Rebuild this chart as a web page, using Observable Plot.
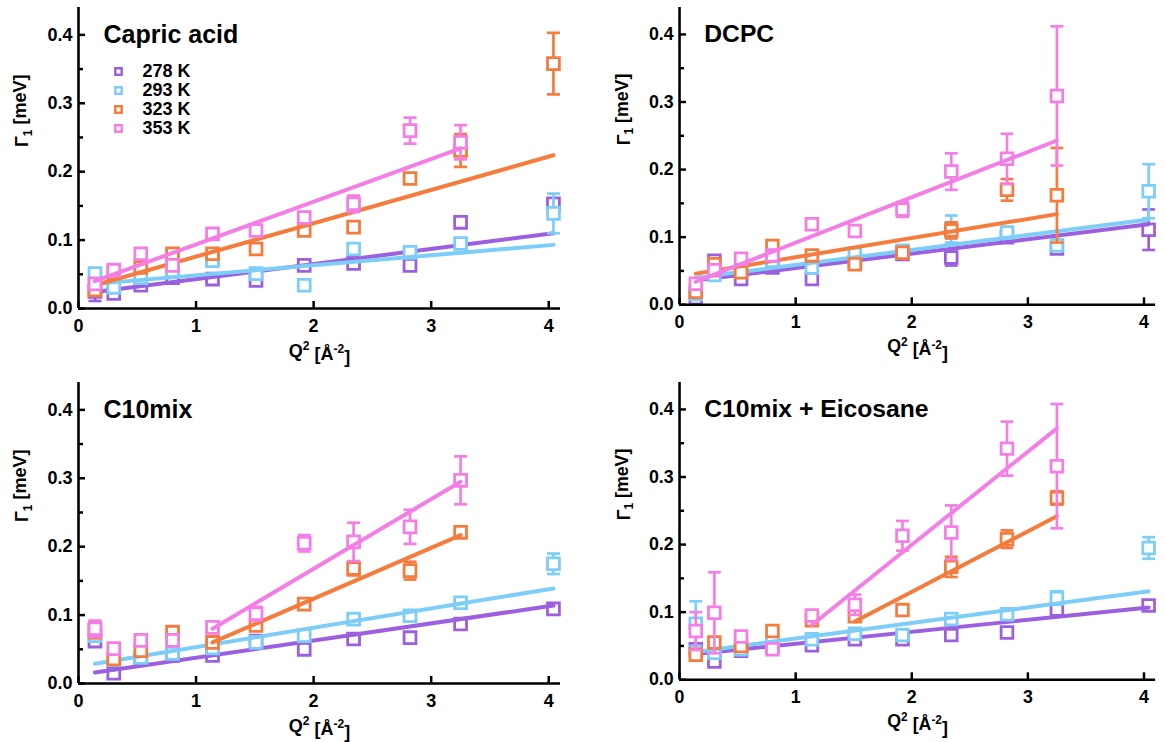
<!DOCTYPE html>
<html><head><meta charset="utf-8">
<script src="https://cdn.jsdelivr.net/npm/d3@7"></script>
<script src="https://cdn.jsdelivr.net/npm/@observablehq/plot@0.6"></script>
<style>
body{margin:0;background:#fff;font-family:"Liberation Sans",Arial,sans-serif;}
#root{position:relative;width:1165px;height:742px;overflow:hidden;}
.panel{position:absolute;}
.panel svg{overflow:visible;}
</style></head><body><div id="root"></div>
<script>
// ---------- data ----------
const q2 = [0.14, 0.30, 0.53, 0.80, 1.14, 1.51, 1.92, 2.34, 2.82, 3.25, 4.04];
const temps = ["278 K", "293 K", "323 K", "353 K"];
const colors = ["#9b5fe0", "#7ccdf8", "#f57c3c", "#f47de6"];
const panelTitles = ["Capric acid", "DCPC", "C10mix", "C10mix + Eicosane"];
const xTicks = [0, 1, 2, 3, 4];
const yTicks = [0, 0.1, 0.2, 0.3, 0.4];
const yMinorTicks = [0.05, 0.15, 0.25, 0.35];

// Γ1 values, one row per temperature (278, 293, 323, 353 K)
const capricVals = [
  [0.025, 0.022, 0.034, 0.045, 0.043, 0.041, 0.063, 0.066, 0.063, 0.126, 0.153],
  [0.051, 0.031, 0.045, 0.055, 0.070, 0.051, 0.034, 0.087, 0.082, 0.095, 0.139],
  [0.027, 0.052, 0.060, 0.080, 0.080, 0.087, 0.114, 0.119, 0.190, 0.231, 0.358],
  [0.036, 0.056, 0.080, 0.063, 0.109, 0.114, 0.133, 0.153, 0.260, 0.243, null]
];
const capricErr = [
  [0.014, 0, 0, 0, 0, 0, 0, 0, 0, 0, 0],
  [0, 0, 0, 0, 0, 0, 0, 0, 0, 0, 0.029],
  [0, 0, 0, 0, 0, 0, 0, 0.008, 0, 0.024, 0.045],
  [0, 0, 0, 0, 0, 0, 0.008, 0.012, 0.019, 0.025, null]
];
// fit lines: [q2 start, q2 end, Γ1 start, Γ1 end]
const capricFit = [
  [0.14, 4.04, 0.024, 0.110],
  [0.14, 4.04, 0.036, 0.093],
  [0.14, 4.04, 0.034, 0.224],
  [0.14, 3.25, 0.040, 0.234]
];

const dcpcVals = [
  [0.010, 0.065, 0.038, 0.055, 0.038, 0.063, 0.075, 0.070, 0.100, 0.083, 0.111],
  [0.016, 0.044, 0.050, 0.065, 0.055, 0.075, 0.080, 0.112, 0.107, 0.088, 0.168],
  [0.019, 0.060, 0.048, 0.087, 0.073, 0.060, 0.077, 0.110, 0.170, 0.162, null],
  [0.031, 0.051, 0.068, 0.073, 0.119, 0.109, 0.141, 0.197, 0.216, 0.309, null]
];
const dcpcErr = [
  [0.005, 0, 0, 0, 0, 0, 0, 0.012, 0, 0, 0.030],
  [0, 0, 0, 0, 0, 0, 0, 0.020, 0, 0, 0.040],
  [0, 0, 0, 0, 0, 0, 0, 0.012, 0.016, 0.070, null],
  [0, 0, 0, 0, 0, 0, 0.011, 0.027, 0.037, 0.103, null]
];
const dcpcFit = [
  [0.14, 4.04, 0.036, 0.119],
  [0.14, 4.04, 0.040, 0.126],
  [0.14, 3.25, 0.046, 0.134],
  [0.14, 3.25, 0.034, 0.243]
];

const c10Vals = [
  [0.062, 0.015, 0.035, 0.041, 0.041, 0.062, 0.050, 0.065, 0.067, 0.087, 0.109],
  [0.070, 0.035, 0.038, 0.044, 0.052, 0.060, 0.070, 0.094, 0.099, 0.118, 0.175],
  [0.078, 0.036, 0.048, 0.075, 0.060, 0.085, 0.116, 0.168, 0.165, 0.221, null],
  [0.080, 0.051, 0.063, 0.063, 0.082, 0.102, 0.205, 0.207, 0.229, 0.297, null]
];
const c10Err = [
  [0, 0, 0, 0, 0, 0, 0, 0, 0, 0, 0],
  [0, 0, 0, 0, 0, 0, 0, 0, 0, 0, 0.015],
  [0.012, 0, 0, 0, 0, 0, 0, 0.010, 0.013, 0.008, null],
  [0.012, 0, 0, 0, 0, 0.010, 0.012, 0.028, 0.025, 0.035, null]
];
const c10Fit = [
  [0.14, 4.04, 0.016, 0.114],
  [0.14, 4.04, 0.029, 0.139],
  [1.14, 3.25, 0.060, 0.217],
  [1.14, 3.25, 0.080, 0.295]
];

const eicoVals = [
  [0.045, 0.027, 0.043, 0.050, 0.051, 0.060, 0.060, 0.066, 0.070, 0.104, 0.110],
  [0.083, 0.040, 0.045, 0.055, 0.060, 0.068, 0.066, 0.090, 0.097, 0.121, 0.195],
  [0.037, 0.055, 0.050, 0.072, 0.088, 0.094, 0.103, 0.167, 0.208, 0.269, null],
  [0.072, 0.099, 0.064, 0.045, 0.095, 0.111, 0.213, 0.218, 0.342, 0.316, null]
];
const eicoErr = [
  [0, 0, 0, 0, 0, 0, 0, 0, 0, 0, 0],
  [0.033, 0, 0, 0, 0, 0, 0, 0, 0, 0.010, 0.016],
  [0, 0, 0, 0, 0, 0, 0, 0.015, 0.013, 0.010, null],
  [0.028, 0.060, 0, 0, 0, 0.015, 0.022, 0.040, 0.040, 0.092, null]
];
const eicoFit = [
  [0.14, 4.04, 0.038, 0.107],
  [0.14, 4.04, 0.041, 0.131],
  [1.51, 3.25, 0.086, 0.242],
  [1.14, 3.25, 0.081, 0.372]
];

// ---------- drawing ----------
const capSymbol = {
  draw(context, size) {
    const r = Math.sqrt(size / Math.PI);
    context.moveTo(-r, 0);
    context.lineTo(r, 0);
  }
};

function makePanel(title, vals, errs, fits, showLegend) {
  const marks = [];
  vals.forEach((row, s) => {
    const pts = [];
    row.forEach((v, i) => { if (v != null) pts.push({x: q2[i], y: v, e: errs[s][i] || 0}); });
    const eb = pts.filter(d => d.e > 0);
    const fit = [{x: fits[s][0], y: fits[s][2]}, {x: fits[s][1], y: fits[s][3]}];
    marks.push(
      Plot.ruleX(eb, {x: d => d.x, y1: d => d.y - d.e, y2: d => d.y + d.e, stroke: colors[s], strokeWidth: 2.7}),
      Plot.dot(eb, {x: d => d.x, y: d => d.y + d.e, symbol: capSymbol, r: 6.5, stroke: colors[s], strokeWidth: 2.7}),
      Plot.dot(eb, {x: d => d.x, y: d => d.y - d.e, symbol: capSymbol, r: 6.5, stroke: colors[s], strokeWidth: 2.7}),
      Plot.dot(pts, {x: d => d.x, y: d => d.y, symbol: "square", r: 6.7, stroke: colors[s], fill: "white", strokeWidth: 2.8}),
      Plot.line(fit, {x: d => d.x, y: d => d.y, stroke: colors[s], strokeWidth: 4})
    );
  });
  // axes
  marks.push(
    Plot.ruleY([0], {stroke: "black", strokeWidth: 2.6}),
    Plot.ruleX([0], {stroke: "black", strokeWidth: 2.6}),
    Plot.axisX({ticks: xTicks, tickSize: 7, dy: -7, strokeWidth: 2.5, tickFormat: () => "", label: null}),
    Plot.axisX({ticks: xTicks, tickSize: 0, tickPadding: 11, fontSize: 18, fontWeight: "bold", tickFormat: d3.format("d"), label: null}),
    Plot.axisY({ticks: yTicks, tickSize: 7, dx: 7, strokeWidth: 2.5, tickFormat: () => "", label: null}),
    Plot.axisY({ticks: yMinorTicks, tickSize: 5, dx: 5, strokeWidth: 2.5, tickFormat: () => "", label: null}),
    Plot.axisY({ticks: yTicks, tickSize: 0, tickPadding: 6, fontSize: 18, fontWeight: "bold", tickFormat: d3.format(".1f"), label: null}),
    Plot.text(["ylabel"], {frameAnchor: "left", dx: -56, dy: -11, rotate: -90, text: d => d, fontSize: 18, fontWeight: "bold", className: "ylab"}),
    Plot.text(["xlabel"], {frameAnchor: "bottom", dy: 48, lineAnchor: "bottom", text: d => d, fontSize: 18, fontWeight: "bold", className: "xlab"}),
    Plot.text([title], {frameAnchor: "top-left", dx: 25, dy: 35, lineAnchor: "bottom", textAnchor: "start", text: d => d, fontSize: 25, fontWeight: "bold"})
  );
  if (showLegend) {
    temps.forEach((t, i) => {
      marks.push(
        Plot.dot([t], {frameAnchor: "top-left", dx: 40, dy: 64 + i * 19, symbol: "square", r: 3.6, stroke: colors[i], fill: "white", strokeWidth: 2.4}),
        Plot.text([t], {frameAnchor: "top-left", dx: 64, dy: 64 + i * 19, textAnchor: "start", lineAnchor: "middle", text: d => d, fontSize: 18, fontWeight: "bold"})
      );
    });
  }
  const chart = Plot.plot({
    width: 570, height: 370,
    marginLeft: 78, marginRight: 10, marginTop: 7, marginBottom: 62,
    style: {fontFamily: "'Liberation Sans', Arial, sans-serif", background: "transparent", color: "black"},
    x: {domain: [0, 4.1], label: null},
    y: {domain: [0, 0.44], label: null},
    marks
  });
  // rich text for axis labels (sub/superscripts)
  const sel = d3.select(chart);
  sel.selectAll(".ylab text").each(function() {
    const t = d3.select(this); t.text("");
    t.append("tspan").text("Γ");
    t.append("tspan").attr("font-size", 12).attr("dy", "0.3em").text("1");
    t.append("tspan").attr("dy", "-0.3em").text(" [meV]");
  });
  sel.selectAll(".xlab text").each(function() {
    const t = d3.select(this); t.text("");
    t.append("tspan").text("Q");
    t.append("tspan").attr("font-size", 12).attr("dy", "-0.55em").text("2");
    t.append("tspan").attr("dy", "0.55em").text(" [Å");
    t.append("tspan").attr("font-size", 12).attr("dy", "-0.55em").text("-2");
    t.append("tspan").attr("dy", "0.55em").text("]");
  });
  return chart;
}

const root = document.getElementById("root");
const layout = [
  {title: panelTitles[0], vals: capricVals, errs: capricErr, fits: capricFit, left: 0, top: 0, legend: true},
  {title: panelTitles[1], vals: dcpcVals, errs: dcpcErr, fits: dcpcFit, left: 602, top: 0, legend: false},
  {title: panelTitles[2], vals: c10Vals, errs: c10Err, fits: c10Fit, left: 0, top: 375, legend: false},
  {title: panelTitles[3], vals: eicoVals, errs: eicoErr, fits: eicoFit, left: 602, top: 375, legend: false}
];
layout.forEach(p => {
  const div = document.createElement("div");
  div.className = "panel";
  div.style.left = p.left + "px";
  div.style.top = p.top + "px";
  div.appendChild(makePanel(p.title, p.vals, p.errs, p.fits, p.legend));
  root.appendChild(div);
});
</script></body></html>
